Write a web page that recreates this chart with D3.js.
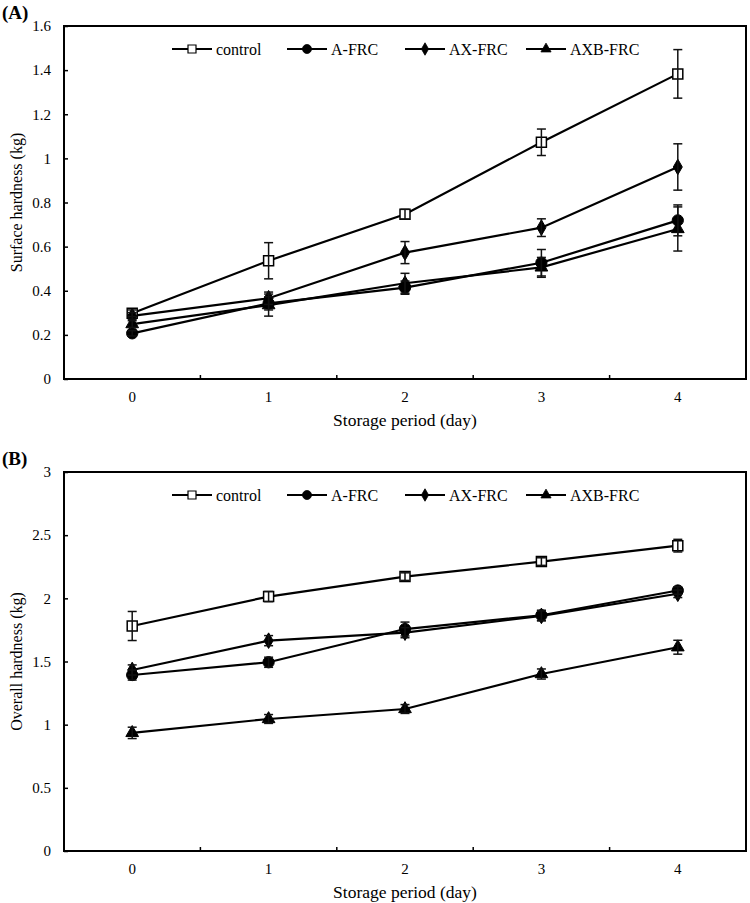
<!DOCTYPE html>
<html>
<head>
<meta charset="utf-8">
<script src="https://cdn.jsdelivr.net/npm/d3@7"></script>
<style>
  html, body { margin: 0; padding: 0; background: #fff; }
  svg { display: block; font-family: "Liberation Serif", "Times New Roman", serif; }
</style>
</head>
<body>
<svg id="chart" width="750" height="903"></svg>
<script>
// ---------- data ----------
const days = [0, 1, 2, 3, 4];
const seriesNames = ["control", "A-FRC", "AX-FRC", "AXB-FRC"];
const seriesSymbols = ["square", "circle", "diamond", "triangle"];

// Panel A: Surface hardness (kg)
const surfaceControl = [0.298, 0.536, 0.747, 1.073, 1.383];
const surfaceControlErr = [0.015, 0.082, 0.022, 0.060, 0.110];
const surfaceA = [0.207, 0.343, 0.414, 0.527, 0.719];
const surfaceAErr = [0.012, 0.030, 0.030, 0.060, 0.070];
const surfaceAX = [0.286, 0.366, 0.573, 0.686, 0.961];
const surfaceAXErr = [0.015, 0.028, 0.050, 0.040, 0.105];
const surfaceAXB = [0.249, 0.335, 0.434, 0.506, 0.680];
const surfaceAXBErr = [0.015, 0.050, 0.045, 0.045, 0.100];
const surfaceTicks = [0, 0.2, 0.4, 0.6, 0.8, 1, 1.2, 1.4, 1.6];

// Panel B: Overall hardness (kg)
const overallControl = [1.781, 2.014, 2.172, 2.291, 2.417];
const overallControlErr = [0.115, 0.040, 0.030, 0.030, 0.050];
const overallA = [1.393, 1.494, 1.757, 1.866, 2.062];
const overallAErr = [0.040, 0.040, 0.055, 0.040, 0.030];
const overallAX = [1.433, 1.665, 1.728, 1.861, 2.036];
const overallAXErr = [0.040, 0.040, 0.040, 0.040, 0.030];
const overallAXB = [0.935, 1.045, 1.124, 1.401, 1.613];
const overallAXBErr = [0.045, 0.035, 0.035, 0.040, 0.055];
const overallTicks = [0, 0.5, 1, 1.5, 2, 2.5, 3];

const panels = [
  { label: "(A)", yTitle: "Surface hardness (kg)", xTitle: "Storage period (day)",
    domain: [0, 1.6], ticks: surfaceTicks,
    values: [surfaceControl, surfaceA, surfaceAX, surfaceAXB],
    errors: [surfaceControlErr, surfaceAErr, surfaceAXErr, surfaceAXBErr],
    top: 26, bottom: 379 },
  { label: "(B)", yTitle: "Overall hardness (kg)", xTitle: "Storage period (day)",
    domain: [0, 3], ticks: overallTicks,
    values: [overallControl, overallA, overallAX, overallAXB],
    errors: [overallControlErr, overallAErr, overallAXErr, overallAXBErr],
    top: 472, bottom: 851 }
];

// ---------- drawing ----------
const svg = d3.select("#chart");
const left = 64, right = 746;
const legendStarts = [172, 287, 405, 526];

function symbolPath(type) {
  const map = {
    square: d3.symbol(d3.symbolSquare, 100),
    circle: d3.symbol(d3.symbolCircle, 100),
    diamond: d3.symbol(d3.symbolDiamond, 70),
    triangle: d3.symbol(d3.symbolTriangle, 70)
  };
  return map[type]();
}

panels.forEach(p => {
  const g = svg.append("g");
  const x = d3.scaleBand().domain(days).range([left, right]).padding(0);
  const y = d3.scaleLinear().domain(p.domain).range([p.bottom, p.top]);
  const cx = d => x(d) + x.bandwidth() / 2;

  // panel label
  g.append("text").attr("x", 2).attr("y", p.top - 7)
    .attr("font-size", 19).attr("font-weight", "bold").text(p.label);

  // y axis
  const yAxis = d3.axisLeft(y).tickValues(p.ticks).tickSizeInner(-4).tickSizeOuter(0)
    .tickPadding(13).tickFormat(d3.format("~g"));
  const ya = g.append("g").attr("transform", `translate(${left},0)`).call(yAxis);
  ya.select(".domain").remove();
  ya.selectAll("line").attr("stroke", "#000").attr("stroke-width", 1.5);
  ya.selectAll("text").attr("font-size", 15).attr("font-family", "Liberation Serif").attr("fill", "#000");

  // x axis labels
  const xAxis = d3.axisBottom(x).tickSize(0).tickPadding(12);
  const xa = g.append("g").attr("transform", `translate(0,${p.bottom})`).call(xAxis);
  xa.select(".domain").remove();
  xa.selectAll("text").attr("font-size", 15).attr("font-family", "Liberation Serif").attr("fill", "#000");

  // x boundary ticks (inward)
  g.selectAll(".xb").data(days.slice(1)).enter().append("line")
    .attr("x1", d => x(d)).attr("x2", d => x(d))
    .attr("y1", p.bottom).attr("y2", p.bottom - 4)
    .attr("stroke", "#000").attr("stroke-width", 1.5);

  // frame
  g.append("rect").attr("x", left).attr("y", p.top)
    .attr("width", right - left).attr("height", p.bottom - p.top)
    .attr("fill", "none").attr("stroke", "#000").attr("stroke-width", 2);

  // axis titles
  g.append("text").attr("x", (left + right) / 2).attr("y", p.bottom + 47)
    .attr("text-anchor", "middle").attr("font-size", 17.5).text(p.xTitle);
  g.append("text")
    .attr("transform", `translate(22,${(p.top + p.bottom) / 2}) rotate(-90)`)
    .attr("text-anchor", "middle").attr("font-size", 16).text(p.yTitle);

  // series lines
  const line = d3.line().x((d, i) => cx(days[i])).y(d => y(d));
  p.values.forEach((vals, si) => {
    g.append("path").datum(vals).attr("d", line)
      .attr("fill", "none").attr("stroke", "#000").attr("stroke-width", 2.2);
  });

  // markers
  p.values.forEach((vals, si) => {
    const sym = seriesSymbols[si];
    g.selectAll(null).data(vals).enter().append("path")
      .attr("d", symbolPath(sym))
      .attr("transform", (d, i) => `translate(${cx(days[i])},${y(d)})`)
      .attr("fill", sym === "square" ? "#fff" : "#000")
      .attr("stroke", "#000").attr("stroke-width", sym === "square" ? 1.5 : 1);
  });

  // error bars
  p.values.forEach((vals, si) => {
    const errs = p.errors[si];
    vals.forEach((v, i) => {
      const xx = cx(days[i]);
      const y1 = y(v + errs[i]), y2 = y(v - errs[i]);
      g.append("line").attr("x1", xx).attr("x2", xx).attr("y1", y1).attr("y2", y2)
        .attr("stroke", "#111").attr("stroke-width", 1.5);
      [y1, y2].forEach(yy => {
        g.append("line").attr("x1", xx - 4.5).attr("x2", xx + 4.5).attr("y1", yy).attr("y2", yy)
          .attr("stroke", "#111").attr("stroke-width", 1.5);
      });
    });
  });

  // legend
  const ly = p.top + 23;
  seriesNames.forEach((name, si) => {
    const lx = legendStarts[si];
    const lg = g.append("g");
    lg.append("line").attr("x1", lx).attr("x2", lx + 40).attr("y1", ly).attr("y2", ly)
      .attr("stroke", "#000").attr("stroke-width", 2.2);
    const sym = seriesSymbols[si];
    lg.append("path").attr("d", symbolPath(sym))
      .attr("transform", `translate(${lx + 20},${ly}) scale(0.8)`)
      .attr("fill", sym === "square" ? "#fff" : "#000")
      .attr("stroke", "#000").attr("stroke-width", sym === "square" ? 1.5 : 1);
    lg.append("text").attr("x", lx + 44).attr("y", ly + 5.5)
      .attr("font-size", 16).text(name);
  });
});
</script>
</body>
</html>
